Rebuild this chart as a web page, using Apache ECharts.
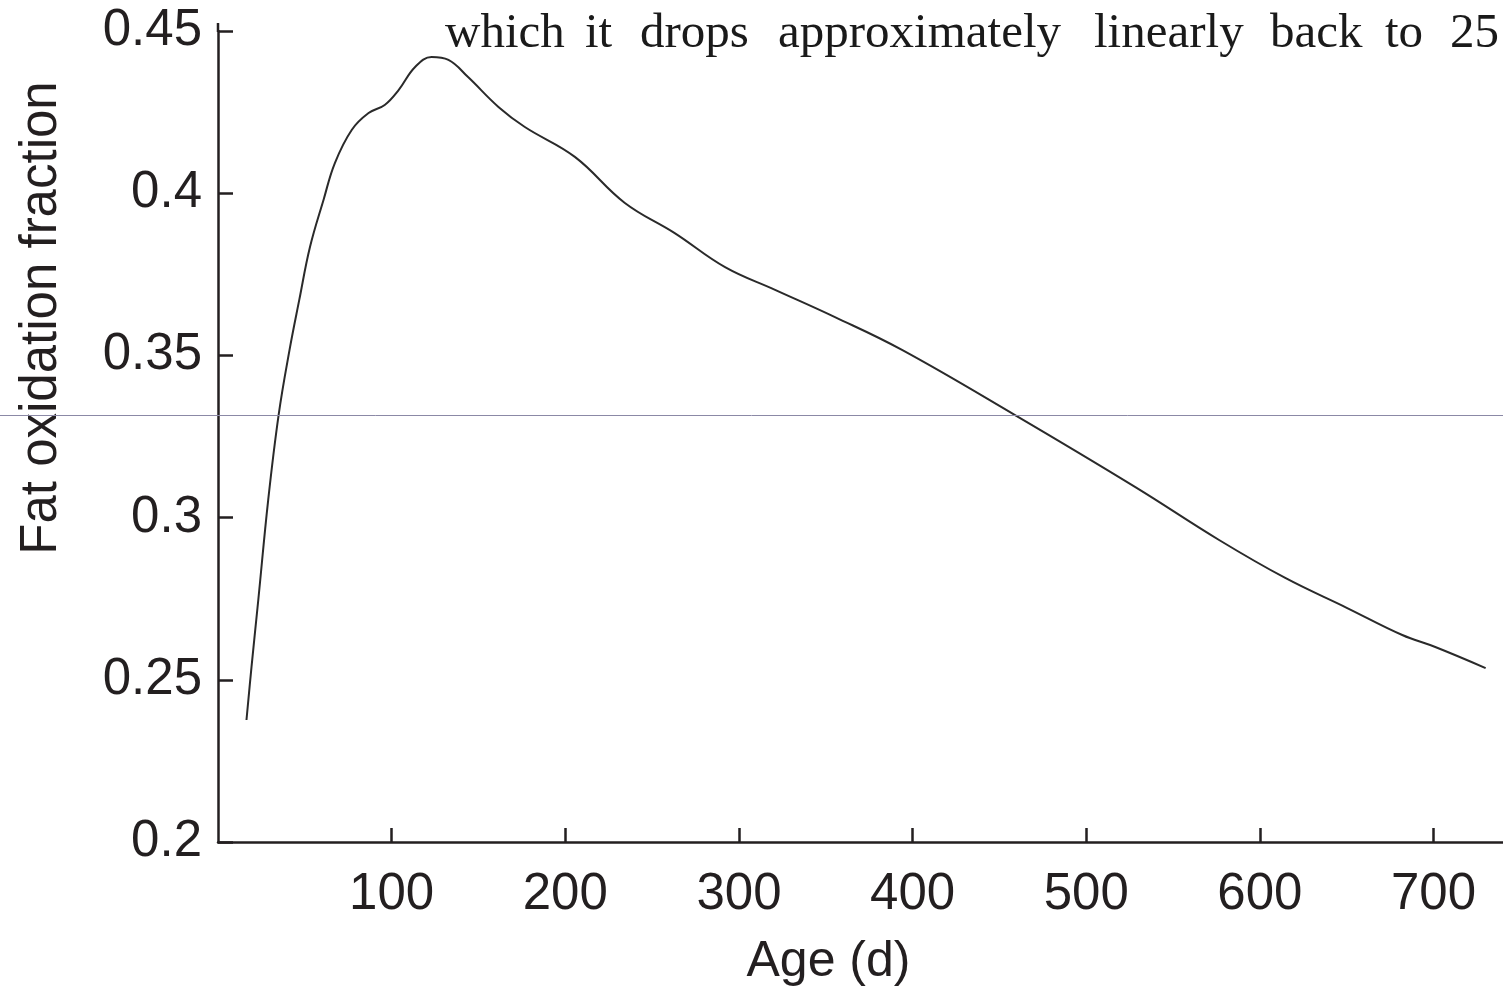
<!DOCTYPE html>
<html>
<head>
<meta charset="utf-8">
<script src="https://cdn.jsdelivr.net/npm/echarts@6/dist/echarts.min.js"></script>
<style>
html,body{margin:0;padding:0;background:#fff;}
#c{width:1503px;height:987px;}
</style>
</head>
<body>
<div id="c"></div>
<script>
// Data
var ageDays = [16.4, 19.3, 23.2, 28.9, 34.9, 41.2, 46.8, 53, 60.8, 67.3, 77, 86.7, 96, 104, 113.5, 123, 132.7, 144, 161.5, 176.7, 205.5, 234.3, 263, 292, 320.8, 355.3, 393.9, 459, 528.3, 576.5, 614.6, 650, 682, 701, 730];
var fatFraction = [0.2376, 0.254, 0.2746, 0.3054, 0.3316, 0.3517, 0.3671, 0.3835, 0.398, 0.4093, 0.4195, 0.4247, 0.4272, 0.4318, 0.4389, 0.4420, 0.4411, 0.4358, 0.4266, 0.4204, 0.4112, 0.397, 0.3877, 0.3772, 0.3702, 0.3618, 0.3517, 0.3316, 0.3094, 0.2931, 0.2814, 0.2722, 0.2638, 0.2601, 0.2536];
var xTicks = [100, 200, 300, 400, 500, 600, 700];
var yTicks = [0.2, 0.25, 0.3, 0.35, 0.4, 0.45];
var xTitle = 'Age (d)';
var yTitle = 'Fat oxidation fraction';
var pageWords = ['which', 'it', 'drops', 'approximately', 'linearly', 'back', 'to', '25'];
var pageWordX = [445, 585, 640, 778, 1094, 1270, 1385, 1450];

var ink = '#231f20';
var sans = '"Liberation Sans", Arial, sans-serif';

var chart = echarts.init(document.getElementById('c'));
var points = ageDays.map(function (a, i) { return [a, fatFraction[i]]; });

var graphics = pageWords.map(function (w, i) {
  return {
    type: 'text', left: pageWordX[i], top: 10, z: 5,
    style: { text: w, font: '49px "Liberation Serif", "Times New Roman", serif', fill: '#1a1a1a' }
  };
});
graphics.push({
  type: 'text', x: 42, y: 318, rotation: Math.PI / 2, z: 5,
  style: { text: yTitle, font: '51px ' + sans, fill: ink, align: 'center', verticalAlign: 'middle' }
});
graphics.push({
  type: 'line', z: 10,
  shape: { x1: 0, y1: 415.5, x2: 1503, y2: 415.5 },
  style: { stroke: '#8b89a6', lineWidth: 1 }
});
graphics.push({
  type: 'line', z: 3,
  shape: { x1: 218, y1: 23, x2: 218, y2: 32 },
  style: { stroke: ink, lineWidth: 2.5 }
});

chart.setOption({
  animation: false,
  backgroundColor: '#fff',
  grid: { left: 218, right: 0, top: 31, bottom: 145, containLabel: false, outerBoundsMode: 'none' },
  xAxis: {
    type: 'value', min: 0, max: 740,
    name: xTitle, nameLocation: 'middle', nameGap: 95,
    nameTextStyle: { fontSize: 50, fontFamily: sans, color: ink, padding: [0, 64, 0, 0] },
    axisLine: { show: true, onZero: false, lineStyle: { color: ink, width: 2.5 } },
    axisTick: { show: true, inside: true, length: 14, customValues: xTicks, lineStyle: { color: ink, width: 2.5 } },
    axisLabel: { customValues: xTicks, fontSize: 51, fontFamily: sans, color: ink, margin: 27 },
    splitLine: { show: false }
  },
  yAxis: {
    type: 'value', min: 0.2, max: 0.45, interval: 0.05,
    axisLine: { show: true, onZero: false, lineStyle: { color: ink, width: 2.5 } },
    axisTick: { show: true, inside: true, length: 15, customValues: yTicks, lineStyle: { color: ink, width: 2.5 } },
    axisLabel: { customValues: yTicks, fontSize: 51, fontFamily: sans, color: ink, margin: 16,
      formatter: function (v) { return String(Math.round(v * 100) / 100); } },
    splitLine: { show: false }
  },
  series: [{
    type: 'line', data: points, smooth: 0.4, symbol: 'none',
    lineStyle: { color: '#2a2a2a', width: 2 }
  }],
  graphic: graphics
});
</script>
</body>
</html>
